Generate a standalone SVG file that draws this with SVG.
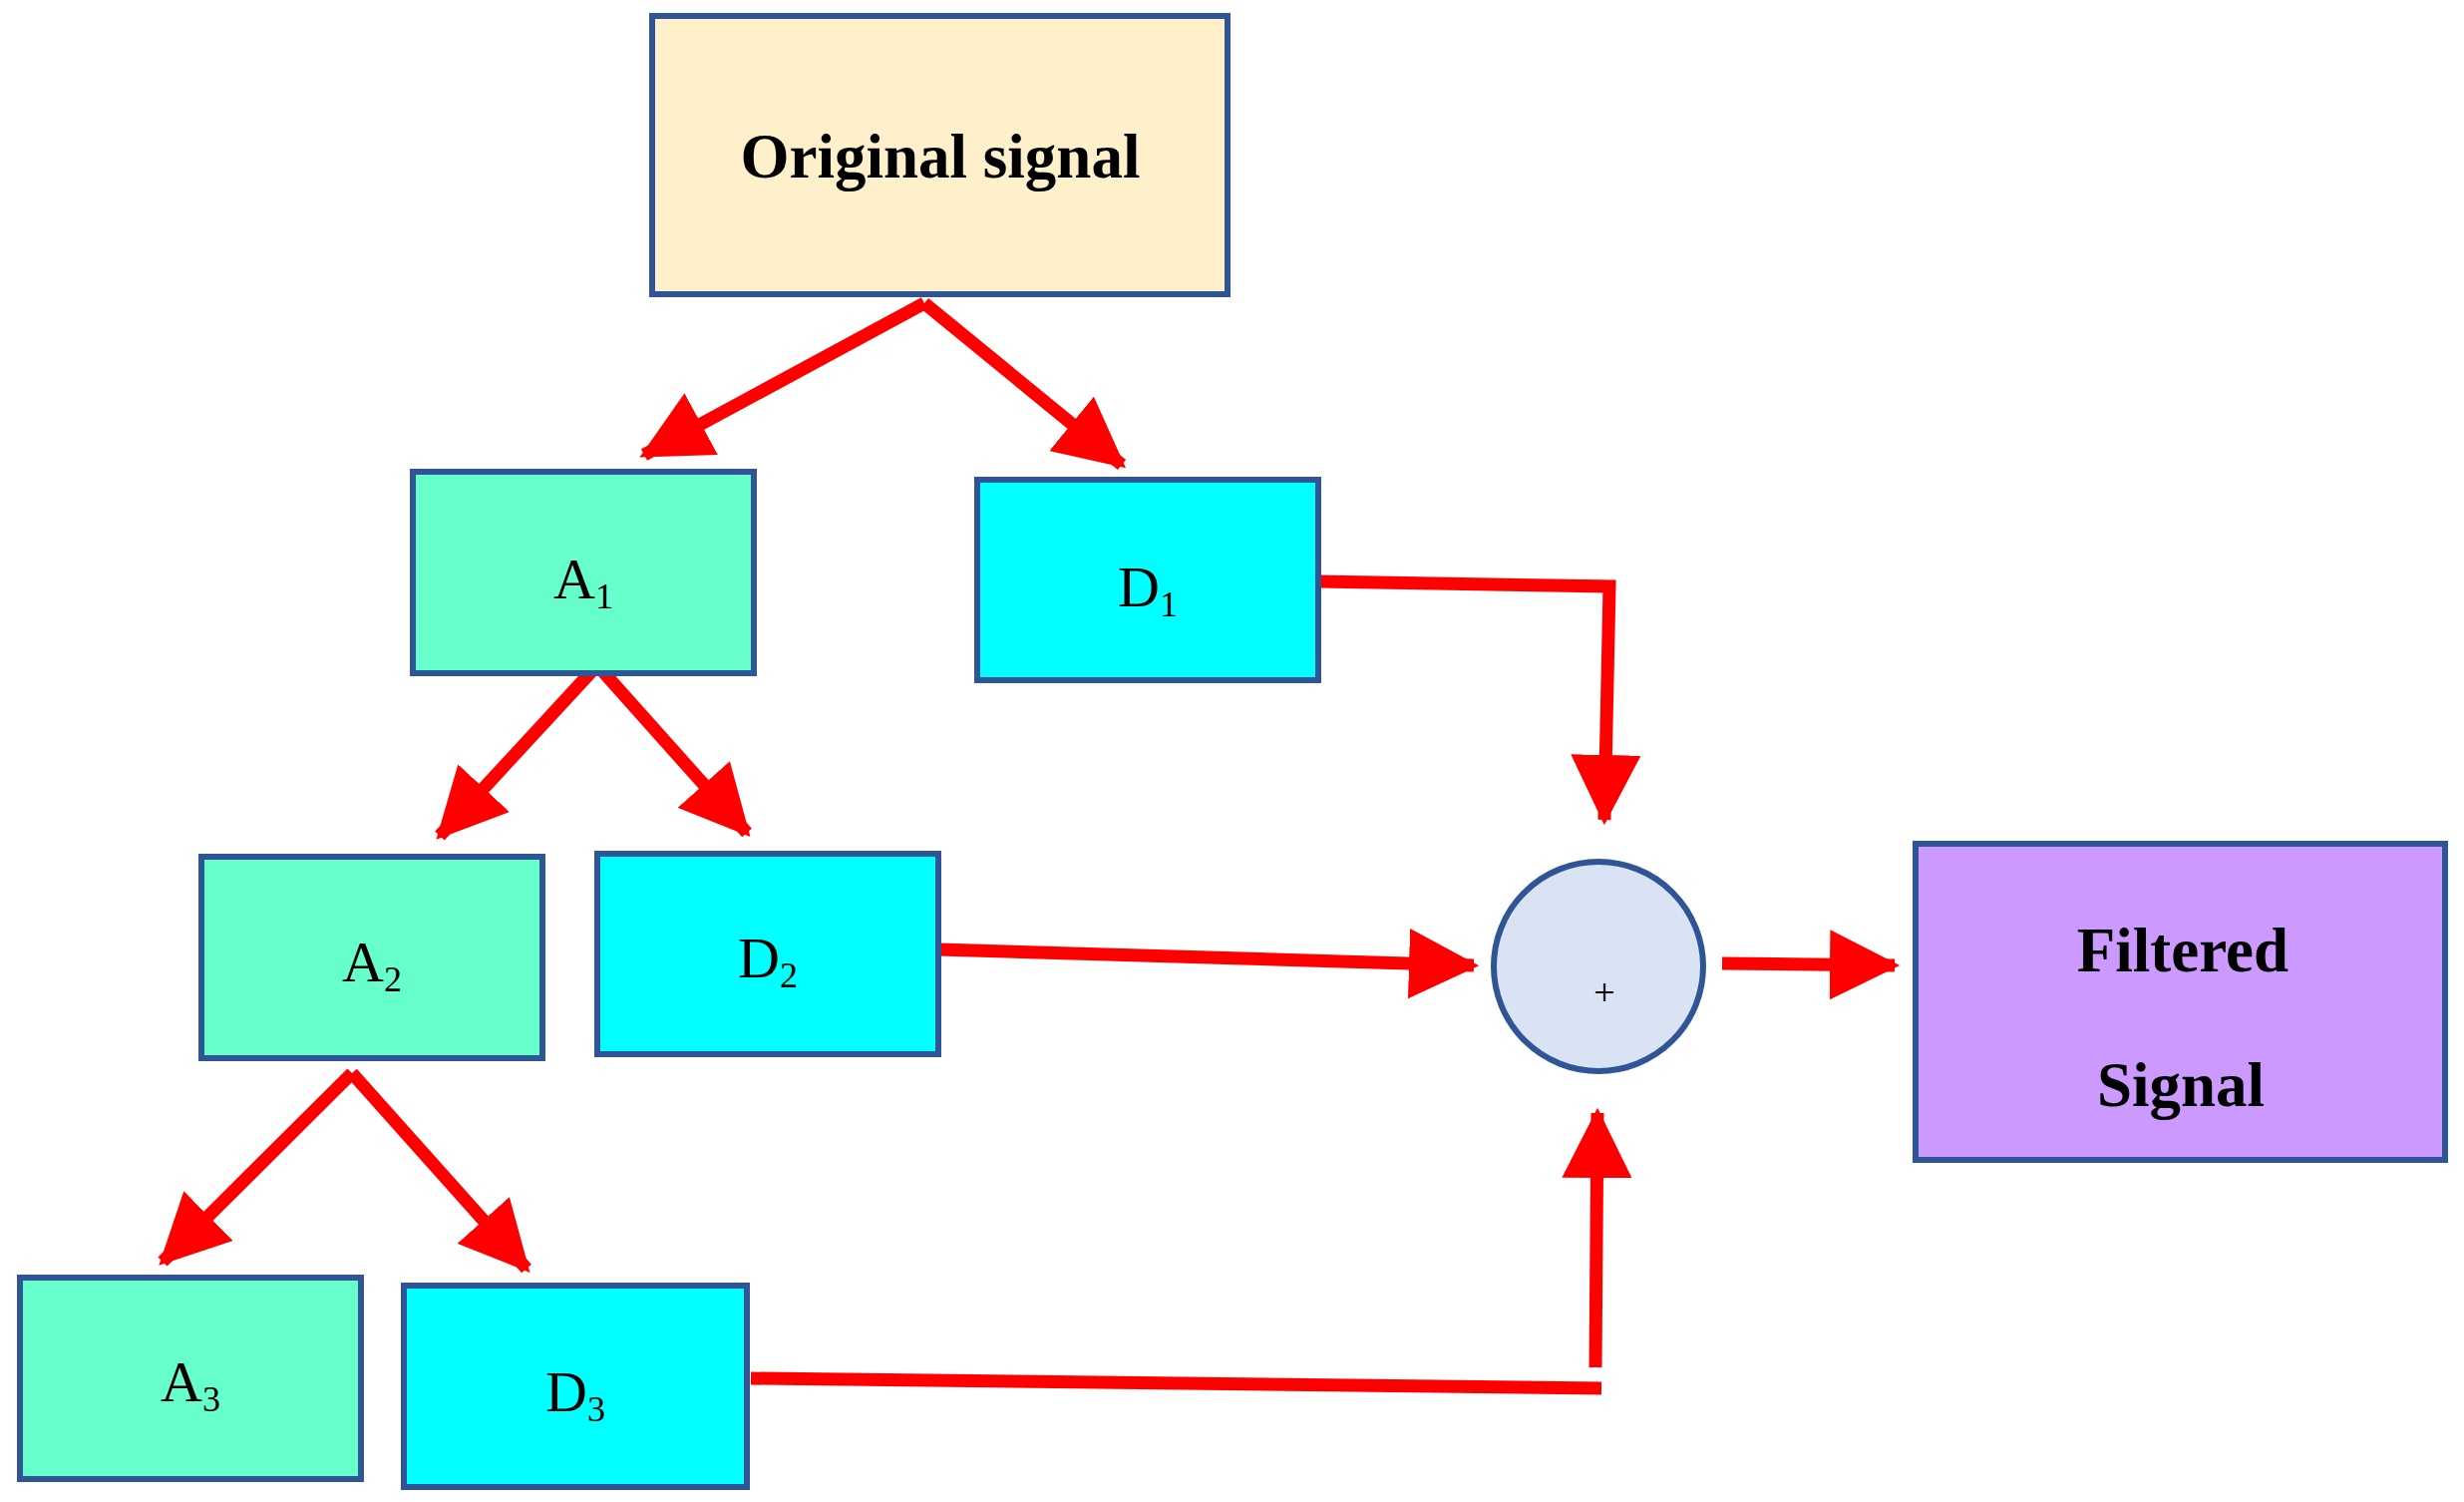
<svg xmlns="http://www.w3.org/2000/svg" width="2471" height="1506" viewBox="0 0 2471 1506">
<style>
.n{stroke:#2F5597;stroke-width:6}
.t{font-family:"Liberation Serif",serif;fill:#000;text-anchor:middle}
.b{font-weight:bold;font-size:63px}
.l{font-size:58px}
.c{fill:none;stroke:#FF0000;stroke-width:13}
</style>
<defs><marker id="ah" markerWidth="5.4" markerHeight="5.4" refX="5" refY="2.7" orient="auto" markerUnits="strokeWidth"><path d="M0,0 L5.4,2.7 L0,5.4 z" fill="#FF0000"/></marker></defs>
<rect width="2471" height="1506" fill="#fff"/>
<g id="connectors">
<polyline class="c" points="927,304 646,456" marker-end="url(#ah)"/>
<polyline class="c" points="927,304 1125,466" marker-end="url(#ah)"/>
<polyline class="c" points="599,667 441,838" marker-end="url(#ah)"/>
<polyline class="c" points="599,667 749,835" marker-end="url(#ah)"/>
<polyline class="c" points="353,1076 163,1265" marker-end="url(#ah)"/>
<polyline class="c" points="353,1076 528,1272" marker-end="url(#ah)"/>
<polyline class="c" points="1322,583 1614,588 1609,822" marker-end="url(#ah)"/>
<polyline class="c" points="941,952 1478,968" marker-end="url(#ah)"/>
<polyline class="c" points="753,1382 1606,1392"/>
<polyline class="c" points="1600,1371 1602,1116" marker-end="url(#ah)"/>
<polyline class="c" points="1727,966 1900,968" marker-end="url(#ah)"/>
</g>
<g id="orig"><rect class="n" x="654" y="16" width="577" height="279" fill="#FFF0CC"/><text class="t b" x="943" y="178">Original signal</text></g>
<g id="A1"><rect class="n" x="414" y="473" width="342" height="202" fill="#66FFCC"/><text class="t l" x="585" y="600">A<tspan font-size="36" dy="10">1</tspan></text></g>
<g id="D1"><rect class="n" x="980" y="481" width="342" height="201" fill="#00FFFF"/><text class="t l" x="1151" y="608">D<tspan font-size="36" dy="10">1</tspan></text></g>
<g id="A2"><rect class="n" x="202" y="859" width="342" height="202" fill="#66FFCC"/><text class="t l" x="373" y="984">A<tspan font-size="36" dy="10">2</tspan></text></g>
<g id="D2"><rect class="n" x="599" y="856" width="342" height="201" fill="#00FFFF"/><text class="t l" x="770" y="980">D<tspan font-size="36" dy="10">2</tspan></text></g>
<g id="A3"><rect class="n" x="20" y="1281" width="342" height="202" fill="#66FFCC"/><text class="t l" x="191" y="1405">A<tspan font-size="36" dy="10">3</tspan></text></g>
<g id="D3"><rect class="n" x="405" y="1289" width="344" height="202" fill="#00FFFF"/><text class="t l" x="577" y="1415">D<tspan font-size="36" dy="10">3</tspan></text></g>
<g id="sum"><circle class="n" cx="1603" cy="969" r="105" fill="#DAE3F3"/><text class="t" font-size="38" x="1609" y="1008">+</text></g>
<g id="filtered"><rect class="n" x="1921" y="846" width="531" height="317" fill="#CC99FF"/><text class="t b" x="2189" y="974">Filtered</text><text class="t b" x="2187" y="1109">Signal</text></g>
</svg>
